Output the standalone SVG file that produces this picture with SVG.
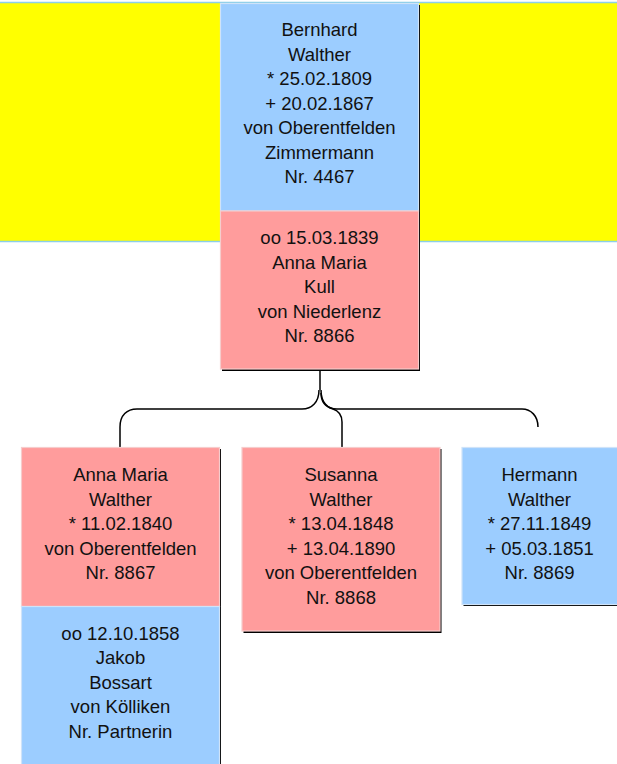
<svg xmlns="http://www.w3.org/2000/svg" width="617" height="764" viewBox="0 0 617 764">
<style>
.t{font-family:"Liberation Sans",Arial,sans-serif;font-size:18.5px;fill:#111;text-anchor:middle}
.m{fill:#ff9c9c;stroke:#f6cccc;stroke-width:1.2}
.f{fill:#9ccdff;stroke:#cfe3f8;stroke-width:1.2}
.s{fill:#000}
.c{fill:none;stroke:#000;stroke-width:1.5}
</style>
<rect x="-2" y="2.5" width="625" height="239" fill="#ffff00" stroke="#8ccfe8" stroke-width="1.5"/>
<g id="connectors">
<path class="c" d="M320,370 V390" stroke-width="2"/>
<path class="c" d="M319,390 C319,402 312,409 302,409 H137 C127,409 120,415 120,427 V447"/>
<path class="c" d="M321,390 C321,402 327,409 337,409 H522 C531,409 538,416 538,427"/>
<path class="c" d="M321,393 C321,403 326,407 333,409 C339,411 342,416 342,422 V447"/>
</g>
<g id="bernhard">
<rect class="s" x="222" y="5" width="198" height="366"/>
<rect class="f" x="220.5" y="3.5" width="198" height="207.5"/>
<text class="t" x="319.5" y="36">Bernhard</text>
<text class="t" x="319.5" y="60.5">Walther</text>
<text class="t" x="319.5" y="85">* 25.02.1809</text>
<text class="t" x="319.5" y="109.5">+ 20.02.1867</text>
<text class="t" x="319.5" y="134">von Oberentfelden</text>
<text class="t" x="319.5" y="158.5">Zimmermann</text>
<text class="t" x="319.5" y="183">Nr. 4467</text>
</g>
<g id="anna-kull">
<rect class="m" x="220.5" y="211" width="198" height="158"/>
<text class="t" x="319.5" y="244">oo 15.03.1839</text>
<text class="t" x="319.5" y="268.5">Anna Maria</text>
<text class="t" x="319.5" y="293">Kull</text>
<text class="t" x="319.5" y="317.5">von Niederlenz</text>
<text class="t" x="319.5" y="342">Nr. 8866</text>
</g>
<g id="anna-maria">
<rect class="s" x="23" y="449" width="198" height="330"/>
<rect class="m" x="21.5" y="447.5" width="198" height="159"/>
<text class="t" x="120.5" y="481">Anna Maria</text>
<text class="t" x="120.5" y="505.5">Walther</text>
<text class="t" x="120.5" y="530">* 11.02.1840</text>
<text class="t" x="120.5" y="554.5">von Oberentfelden</text>
<text class="t" x="120.5" y="579">Nr. 8867</text>
</g>
<g id="jakob">
<rect class="f" x="21.5" y="606.5" width="198" height="170"/>
<text class="t" x="120.5" y="639.5">oo 12.10.1858</text>
<text class="t" x="120.5" y="664">Jakob</text>
<text class="t" x="120.5" y="688.5">Bossart</text>
<text class="t" x="120.5" y="713">von Kölliken</text>
<text class="t" x="120.5" y="737.5">Nr. Partnerin</text>
</g>
<g id="susanna">
<rect class="s" x="243.5" y="449" width="198" height="184"/>
<rect class="m" x="242" y="447.5" width="198" height="183.5"/>
<text class="t" x="341" y="481">Susanna</text>
<text class="t" x="341" y="505.5">Walther</text>
<text class="t" x="341" y="530">* 13.04.1848</text>
<text class="t" x="341" y="554.5">+ 13.04.1890</text>
<text class="t" x="341" y="579">von Oberentfelden</text>
<text class="t" x="341" y="603.5">Nr. 8868</text>
</g>
<g id="hermann">
<rect class="s" x="463.5" y="449" width="160" height="157"/>
<rect class="f" x="462" y="447.5" width="160" height="157"/>
<text class="t" x="539.5" y="481">Hermann</text>
<text class="t" x="539.5" y="505.5">Walther</text>
<text class="t" x="539.5" y="530">* 27.11.1849</text>
<text class="t" x="539.5" y="554.5">+ 05.03.1851</text>
<text class="t" x="539.5" y="579">Nr. 8869</text>
</g>
</svg>
